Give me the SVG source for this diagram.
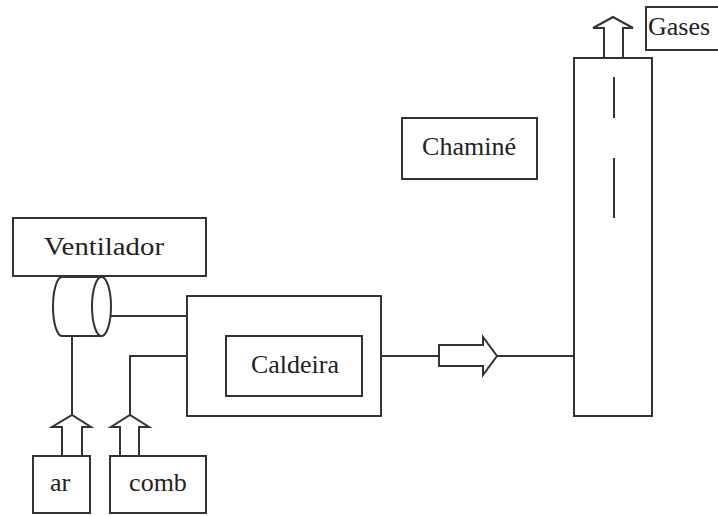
<svg xmlns="http://www.w3.org/2000/svg" width="718" height="516" viewBox="0 0 718 516">
<style>
.b{fill:#fff;stroke:#333;stroke-width:2}
.l{fill:none;stroke:#333;stroke-width:2}
text{font-family:'Liberation Serif','DejaVu Serif',serif;font-size:26px;fill:#222;text-anchor:middle}
</style>
<rect width="718" height="516" fill="#fff"/>
<g id="connectors">
<line class="l" x1="111" y1="316" x2="187" y2="316"/>
<line class="l" x1="72" y1="336" x2="72" y2="415"/>
<polyline class="l" points="130,415 130,356 187,356"/>
<line class="l" x1="381" y1="356" x2="439" y2="356"/>
<line class="l" x1="497" y1="356" x2="574" y2="356"/>
<polygon class="b" points="439,345 483,345 483,337 497,356 483,375 483,366 439,366"/>
<polygon class="b" points="62,456 62,427 52,427 72,415 91,427 82,427 82,456"/>
<polygon class="b" points="120,456 120,427 111,427 130,415 149,427 139,427 139,456"/>
<polygon class="b" points="604,58 604,28 593,28 613,17 633,28 623,28 623,58"/>
</g>
<g id="ventilador">
<rect class="b" x="13" y="218" width="193" height="58"/>
<text x="104" y="255" font-family="Liberation Serif, serif" textLength="120" lengthAdjust="spacingAndGlyphs">Ventilador</text>
</g>
<g id="fan">
<path class="b" d="M62,277 L101,277 L101,336 L62,336 A9,29.5 0 0 1 62,277 Z"/>
<ellipse class="b" cx="101.5" cy="306.5" rx="9.5" ry="29.5"/>
</g>
<g id="caldeira-outer">
<rect class="b" x="187" y="296" width="194" height="120"/>
</g>
<g id="caldeira">
<rect class="b" x="226" y="336" width="136" height="60"/>
<text x="295" y="373" font-family="Liberation Serif, serif">Caldeira</text>
</g>
<g id="ar">
<rect class="b" x="33" y="456" width="57" height="57"/>
<text x="60" y="491" font-family="Liberation Serif, serif">ar</text>
</g>
<g id="comb">
<rect class="b" x="110" y="456" width="96" height="57"/>
<text x="158" y="491" font-family="Liberation Serif, serif">comb</text>
</g>
<g id="chamine-label">
<rect class="b" x="402" y="118" width="135" height="61"/>
<text x="469" y="155" font-family="Liberation Serif, serif">Chaminé</text>
</g>
<g id="chamine">
<rect class="b" x="574" y="58" width="78" height="358"/>
<line class="l" x1="614" y1="77" x2="614" y2="118"/>
<line class="l" x1="614" y1="158" x2="614" y2="218"/>
</g>
<g id="gases">
<rect class="b" x="646" y="7" width="80" height="43"/>
<text x="679" y="35" font-family="Liberation Serif, serif">Gases</text>
</g>
</svg>
